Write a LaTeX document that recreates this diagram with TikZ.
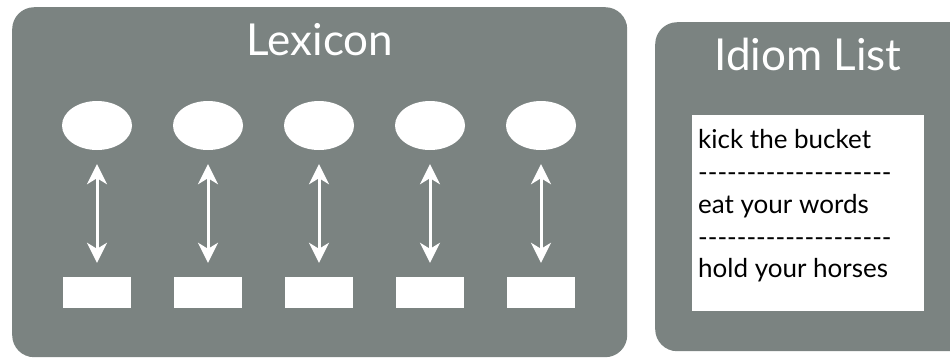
\documentclass[tikz,border=0pt]{standalone}
\usepackage{fontspec}
\setmainfont{Lato}
\usetikzlibrary{arrows.meta,shapes.geometric}
\definecolor{panel}{RGB}{123,131,129}
\newcommand{\hyrow}{-{}-{}-{}-{}-{}-{}-{}-{}-{}-{}-{}-{}-{}-{}-{}-{}-{}-{}-{}-}
\begin{document}
\begin{tikzpicture}[x=1pt,y=-1pt,
  panelbox/.style={fill=panel, draw=none, rounded corners=22pt, anchor=north west, inner sep=0pt},
  titletext/.style={text=white, font=\fontsize{44}{50}\selectfont, anchor=base, inner sep=0pt},
  itemtext/.style={text=black, font=\fontsize{26}{32}\selectfont, anchor=base west, inner sep=0pt},
  lexeme/.style={ellipse, fill=white, draw=none, minimum width=70pt, minimum height=49pt, inner sep=0pt},
  entrybox/.style={rectangle, fill=white, draw=none, minimum width=68pt, minimum height=31pt, inner sep=0pt},
  link/.style={white, line width=3pt, {Stealth[length=20pt,width=20pt,inset=6pt]}-{Stealth[length=20pt,width=20pt,inset=6pt]}, shorten <=14pt, shorten >=14pt}
]
\clip (0,0) rectangle (950,360);
\fill[white] (0,0) rectangle (950,360);
\node[panelbox, minimum width=615pt, minimum height=350pt] (lex) at (12,7) {};
\node[panelbox, minimum width=320pt, minimum height=329pt] (idm) at (655,22) {};
\node[rectangle, fill=white, draw=none, anchor=north west, minimum width=232pt, minimum height=196pt, inner sep=0pt] (list) at (692,115) {};
\node[titletext] (lextitle) at (320,55) {Lexicon};
\node[titletext] (idmtitle) at (808,70) {Idiom List};
\node[itemtext] (i1) at (698,148) {kick the bucket};
\node[itemtext] (d1) at (698,181) {\hyrow};
\node[itemtext] (i2) at (698,213) {eat your words};
\node[itemtext] (d2) at (698,246) {\hyrow};
\node[itemtext] (i3) at (698,277) {hold your horses};
\foreach \i/\x in {1/97,2/208,3/319,4/430,5/541} {
  \node[lexeme] (e\i) at (\x,125.5) {};
  \node[entrybox] (r\i) at (\x,292.5) {};
  \draw[link] (e\i.south) -- (r\i.north);
}
\end{tikzpicture}
\end{document}
